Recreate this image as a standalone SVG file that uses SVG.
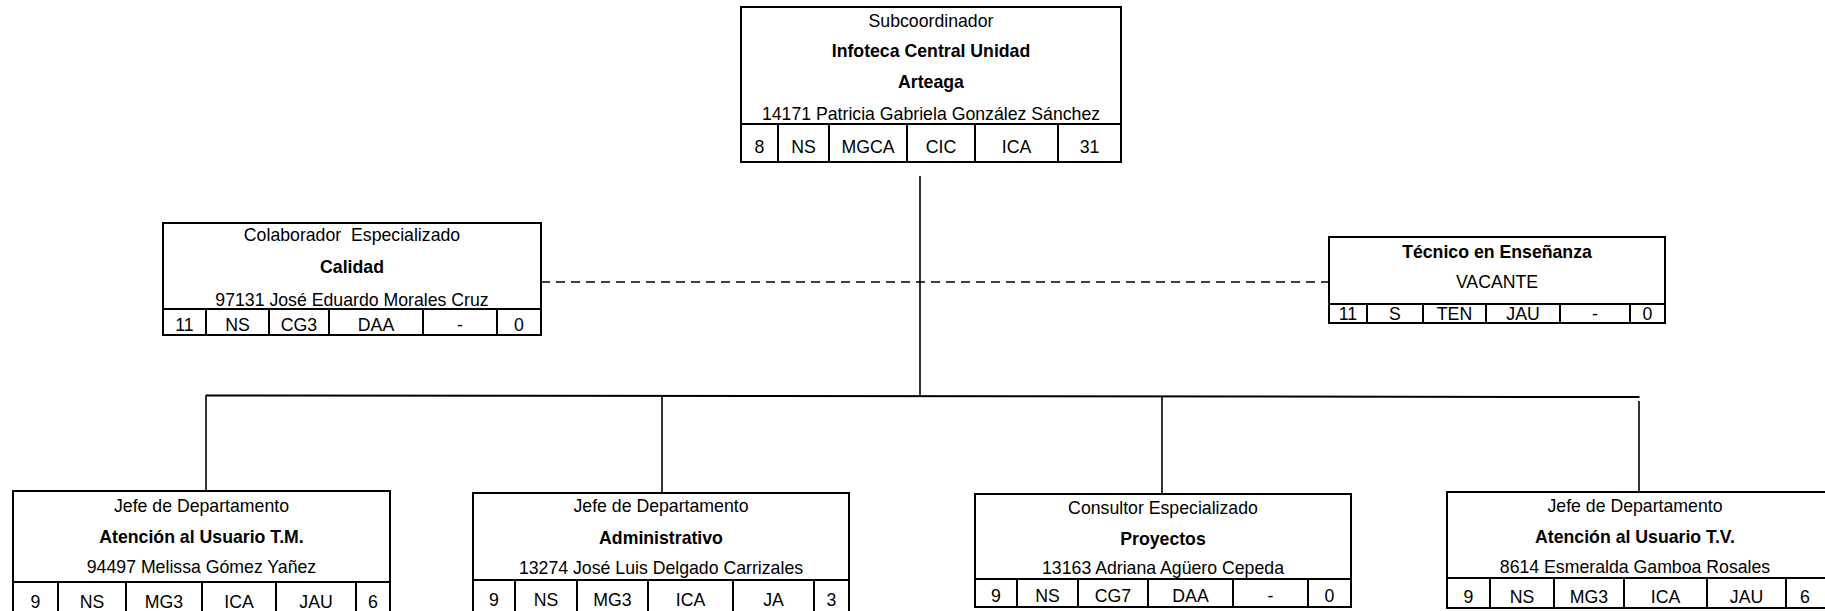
<svg xmlns="http://www.w3.org/2000/svg" width="1825" height="611" viewBox="0 0 1825 611">
<style>
.bx{fill:#fff;stroke:#000;stroke-width:2}
.ln{stroke:#000;stroke-width:2;fill:none}
.cn{stroke:#000;stroke-width:1.6;fill:none}
.ds{stroke:#000;stroke-width:1.6;fill:none;stroke-dasharray:9 6}
text{font-family:"Liberation Sans",Arial,sans-serif;font-size:17.7px;text-anchor:middle;fill:#000}
.b{font-weight:bold}
</style>
<rect width="1825" height="611" fill="#fff"/>
<g id="connectors">
<line class="cn" x1="920" y1="176" x2="920" y2="396"/>
<path class="ln" d="M205.5 395.5 L1639.5 397"/>
<line class="cn" x1="206" y1="396" x2="206" y2="491"/>
<line class="cn" x1="662" y1="396" x2="662" y2="493"/>
<line class="cn" x1="1162" y1="397" x2="1162" y2="494"/>
<line class="cn" x1="1639" y1="401" x2="1639" y2="492"/>
<line class="ds" x1="541" y1="282" x2="1329" y2="282"/>
</g>
<g id="n-top">
<rect class="bx" x="741" y="7" width="380" height="155"/>
<path class="ln" d="M741 124H1121M778 124V162M829 124V162M907 124V162M975 124V162M1058 124V162"/>
<text x="931" y="27">Subcoordinador</text>
<text class="b" x="931" y="57">Infoteca Central Unidad</text>
<text class="b" x="931" y="88">Arteaga</text>
<text x="931" y="120">14171 Patricia Gabriela González Sánchez</text>
<text x="759.5" y="153">8</text><text x="803.5" y="153">NS</text><text x="868" y="153">MGCA</text><text x="941" y="153">CIC</text><text x="1016.5" y="153">ICA</text><text x="1089.5" y="153">31</text>
</g>
<g id="n-calidad">
<rect class="bx" x="163" y="223" width="378" height="112"/>
<path class="ln" d="M163 309H541M206 309V335M269 309V335M329 309V335M423 309V335M497 309V335"/>
<text x="352" y="241" xml:space="preserve">Colaborador  Especializado</text>
<text class="b" x="352" y="273">Calidad</text>
<text x="352" y="306">97131 José Eduardo Morales Cruz</text>
<text x="184.5" y="331">11</text><text x="237.5" y="331">NS</text><text x="299" y="331">CG3</text><text x="376" y="331">DAA</text><text x="460" y="331">-</text><text x="519" y="331">0</text>
</g>
<g id="n-tecnico">
<rect class="bx" x="1329" y="237" width="336" height="86"/>
<path class="ln" d="M1329 304H1665M1367 304V323M1423 304V323M1486 304V323M1560 304V323M1630 304V323"/>
<text class="b" x="1497" y="258">Técnico en Enseñanza</text>
<text x="1497" y="288">VACANTE</text>
<text x="1348" y="320">11</text><text x="1395" y="320">S</text><text x="1454.5" y="320">TEN</text><text x="1523" y="320">JAU</text><text x="1595" y="320">-</text><text x="1647.5" y="320">0</text>
</g>
<g id="n-atm">
<rect class="bx" x="13" y="491" width="377" height="125"/>
<path class="ln" d="M13 582H390M58 582V611M126 582V611M202 582V611M276 582V611M356 582V611"/>
<text x="201.5" y="512">Jefe de Departamento</text>
<text class="b" x="201.5" y="543">Atención al Usuario T.M.</text>
<text x="201.5" y="573">94497 Melissa Gómez Yañez</text>
<text x="35.5" y="608">9</text><text x="92" y="608">NS</text><text x="164" y="608">MG3</text><text x="239" y="608">ICA</text><text x="316" y="608">JAU</text><text x="373" y="608">6</text>
</g>
<g id="n-admin">
<rect class="bx" x="473" y="493" width="376" height="123"/>
<path class="ln" d="M473 580H849M515 580V611M577 580V611M648 580V611M733 580V611M814 580V611"/>
<text x="661" y="512">Jefe de Departamento</text>
<text class="b" x="661" y="544">Administrativo</text>
<text x="661" y="574">13274 José Luis Delgado Carrizales</text>
<text x="494" y="606">9</text><text x="546" y="606">NS</text><text x="612.5" y="606">MG3</text><text x="690.5" y="606">ICA</text><text x="773.5" y="606">JA</text><text x="831.5" y="606">3</text>
</g>
<g id="n-proyectos">
<rect class="bx" x="975" y="494" width="376" height="113"/>
<path class="ln" d="M975 579H1351M1017 579V607M1078 579V607M1148 579V607M1233 579V607M1308 579V607"/>
<text x="1163" y="514">Consultor Especializado</text>
<text class="b" x="1163" y="545">Proyectos</text>
<text x="1163" y="574">13163 Adriana Agüero Cepeda</text>
<text x="996" y="601.5">9</text><text x="1047.5" y="601.5">NS</text><text x="1113" y="601.5">CG7</text><text x="1190.5" y="601.5">DAA</text><text x="1270.5" y="601.5">-</text><text x="1329.5" y="601.5">0</text>
</g>
<g id="n-atv">
<rect class="bx" x="1447" y="492" width="380" height="116"/>
<path class="ln" d="M1447 578H1827M1490 578V608M1554 578V608M1624 578V608M1707 578V608M1786 578V608"/>
<text x="1635" y="512">Jefe de Departamento</text>
<text class="b" x="1635" y="543">Atención al Usuario T.V.</text>
<text x="1635" y="573">8614 Esmeralda Gamboa Rosales</text>
<text x="1468.5" y="603">9</text><text x="1522" y="603">NS</text><text x="1589" y="603">MG3</text><text x="1665.5" y="603">ICA</text><text x="1746.5" y="603">JAU</text><text x="1805" y="603">6</text>
</g>
</svg>
